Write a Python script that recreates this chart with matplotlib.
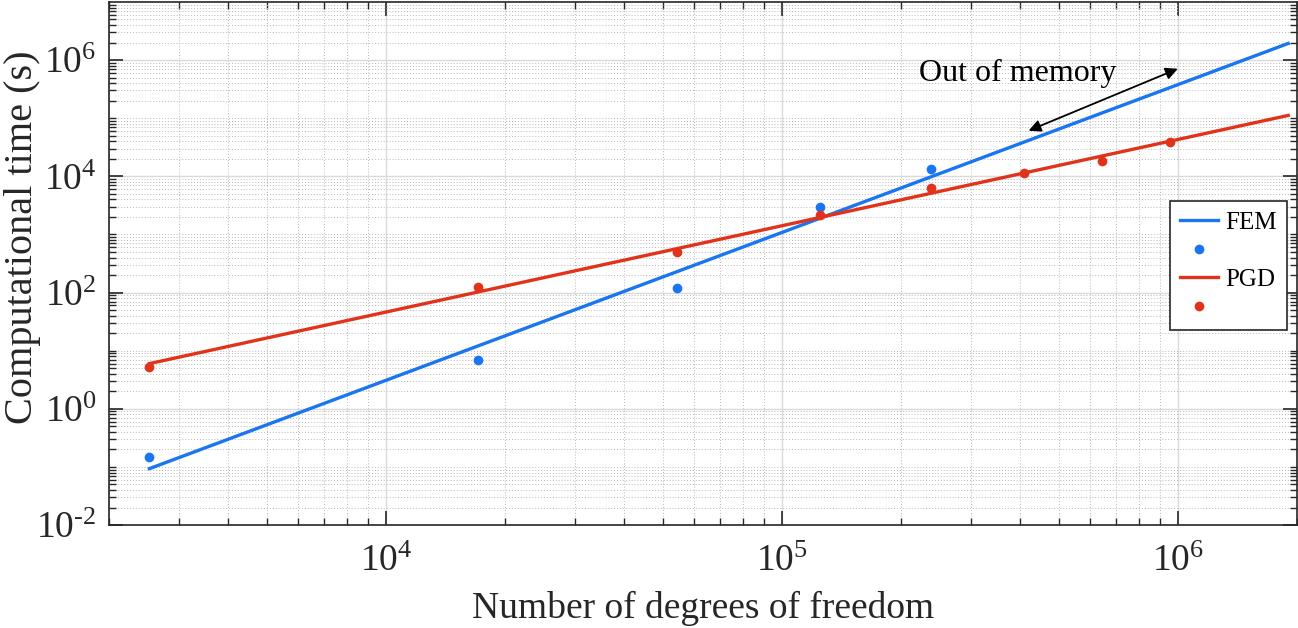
import numpy as np
import matplotlib
matplotlib.use('Agg')
import matplotlib.pyplot as plt
from matplotlib.ticker import FixedLocator, FuncFormatter, NullFormatter

plt.rcParams['font.family'] = ['Liberation Serif', 'DejaVu Serif']
plt.rcParams['mathtext.fontset'] = 'custom'
plt.rcParams['mathtext.rm'] = 'Liberation Serif'
plt.rcParams['mathtext.it'] = 'Liberation Serif:italic'
plt.rcParams['axes.unicode_minus'] = False

# data
fem_dof = [2530, 17100, 54400, 124800, 238800]
fem_time = [0.15, 6.9, 118, 3000, 13200]
pgd_dof = [2530, 17100, 54400, 124800, 238800, 409000, 644000, 955000]
pgd_time = [5.3, 124, 490, 2130, 6400, 11200, 18600, 39500]
fit_range = [2530, 1.9e6]

blue = '#1a75f2'
red = '#e2321a'


def pow10(v, pos):
    e = int(round(np.log10(v)))
    if e < 0:
        return r'$10^{\text{-}%d}$' % (-e)
    return r'$10^{%d}$' % e


fig = plt.figure(figsize=(12.98, 6.28), dpi=100)
ax = fig.add_axes([109 / 1298, 103 / 628, 1188 / 1298, 523 / 628])

# least squares power law fits in log space
xf = np.array(fit_range)
p_fem = np.polyfit(np.log10(fem_dof), np.log10(fem_time), 1)
p_pgd = np.polyfit(np.log10(pgd_dof), np.log10(pgd_time), 1)

l1, = ax.plot(xf, 10 ** np.polyval(p_fem, np.log10(xf)), color=blue, lw=2.4)
d1, = ax.plot(fem_dof, fem_time, 'o', color=blue, ms=7, mec='none')
l2, = ax.plot(xf, 10 ** np.polyval(p_pgd, np.log10(xf)), color=red, lw=2.4)
d2, = ax.plot(pgd_dof, pgd_time, 'o', color=red, ms=7, mec='none')

ax.set_xscale('log')
ax.set_yscale('log')
ax.set_xlim(2e3, 2e6)
ax.set_ylim(1e-2, 1e7)

ax.xaxis.set_major_locator(FixedLocator([1e4, 1e5, 1e6]))
ax.xaxis.set_minor_locator(FixedLocator(
    [m * 10.0 ** k for k in range(3, 7) for m in range(2, 10)]))
ax.yaxis.set_major_locator(FixedLocator([1e-2, 1e0, 1e2, 1e4, 1e6]))
ax.yaxis.set_minor_locator(FixedLocator(
    [m * 10.0 ** k for k in range(-2, 7) for m in range(1, 10)
     if not (m == 1 and k % 2 == 0)]))
ax.xaxis.set_major_formatter(FuncFormatter(pow10))
ax.yaxis.set_major_formatter(FuncFormatter(pow10))
ax.xaxis.set_minor_formatter(NullFormatter())
ax.yaxis.set_minor_formatter(NullFormatter())

ax.tick_params(which='both', direction='in', top=True, right=True,
               colors='#262626', labelcolor='#262626')
ax.tick_params(which='major', length=10, width=1.2, labelsize=27)
ax.tick_params(which='minor', length=5, width=1.0)
ax.tick_params(axis='x', which='major', pad=14)
ax.tick_params(axis='y', which='major', pad=9)
for s in ax.spines.values():
    s.set_color('#262626')
    s.set_linewidth(1.2)

ax.grid(True, which='major', color='#dadada', lw=1.0, ls='-')
ax.grid(True, which='minor', color='#b8b8b8', lw=0.7, ls=(0, (1, 2)))
ax.set_axisbelow(True)

ax.set_xlabel('Number of degrees of freedom', fontsize=27, color='#262626')
ax.set_ylabel('Computational time (s)', fontsize=29, color='#262626')
ax.xaxis.set_label_coords(0.5, -0.125)
ax.yaxis.set_label_coords(-0.057, 0.55)

ax.annotate('', xy=(4.2e5, 6.1e4), xytext=(1.0e6, 7.1e5),
            arrowprops=dict(arrowstyle='<|-|>', color='black', lw=1.3,
                            mutation_scale=18, shrinkA=0, shrinkB=0))
ax.text(3.95e5, 6.0e5, 'Out of memory', fontsize=23, ha='center', va='center')

leg = ax.legend([l1, d1, l2, d2], ['FEM', '', 'PGD', ''], loc='upper right',
                bbox_to_anchor=(0.9916, 0.6195), fontsize=18, frameon=True,
                fancybox=False, framealpha=1, edgecolor='#262626',
                handlelength=1.5, handletextpad=0.3, labelspacing=0.25,
                borderpad=0.4, borderaxespad=0)
leg.get_frame().set_linewidth(1.2)

fig.savefig('out.png', dpi=100)
